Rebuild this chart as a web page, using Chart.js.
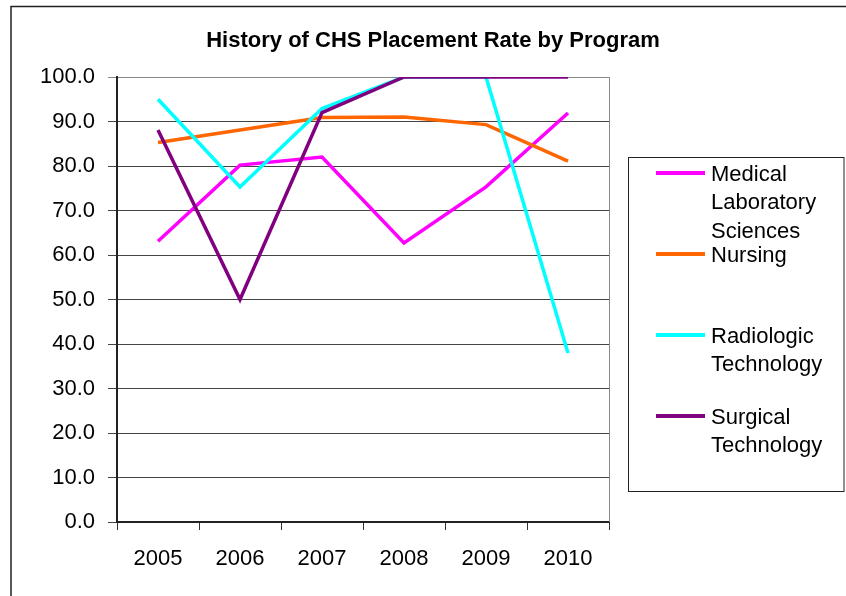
<!DOCTYPE html>
<html>
<head>
<meta charset="utf-8">
<script src="https://cdn.jsdelivr.net/npm/chart.js@4/dist/chart.umd.min.js"></script>
<style>
  html, body { margin: 0; padding: 0; background: #fff; }
  #wrap { position: relative; width: 846px; height: 596px; }
</style>
</head>
<body>
<div id="wrap"><canvas id="c" width="846" height="596"></canvas></div>
<script>
const chartTitle = 'History of CHS Placement Rate by Program';
const years = ['2005', '2006', '2007', '2008', '2009', '2010'];
const seriesNames = ['Medical Laboratory Sciences', 'Nursing', 'Radiologic Technology', 'Surgical Technology'];
const medicalLab = [63.1, 80.2, 82.0, 62.7, 75.3, 91.9];
const nursing = [85.3, 88.1, 90.9, 91.0, 89.3, 81.1];
const radiologic = [95.0, 75.3, 92.9, 100.0, 100.0, 38.0];
const surgical = [88.1, 50.0, 92.0, 100.0, 100.0, 100.0];
const seriesColors = ['#FF00FF', '#FF6600', '#00FFFF', '#800080'];
const yMin = 0, yMax = 100, yStep = 10;

const FONT = '"Liberation Sans", Arial, sans-serif';
const seriesValues = [medicalLab, nursing, radiologic, surgical];

const decorPlugin = {
  id: 'decor',
  beforeDraw(chart) {
    const ctx = chart.ctx;
    ctx.save();
    ctx.fillStyle = '#fff';
    ctx.fillRect(0, 0, chart.width, chart.height);
    // outer chart border
    ctx.strokeStyle = '#222';
    ctx.lineWidth = 1.5;
    ctx.strokeRect(11, 6.5, 1000, 1000);
    ctx.restore();
  },
  afterDraw(chart) {
    const ctx = chart.ctx;
    const a = chart.chartArea;
    ctx.save();
    // right border of plot area
    ctx.strokeStyle = '#888';
    ctx.lineWidth = 1;
    ctx.beginPath();
    ctx.moveTo(Math.round(a.right) + 0.5, a.top);
    ctx.lineTo(Math.round(a.right) + 0.5, a.bottom);
    ctx.stroke();
    // title
    ctx.fillStyle = '#000';
    ctx.font = 'bold 22px ' + FONT;
    ctx.textAlign = 'center';
    ctx.textBaseline = 'alphabetic';
    ctx.fillText(chartTitle, 433, 47);
    // legend box
    ctx.strokeStyle = '#222';
    ctx.lineWidth = 1;
    ctx.strokeRect(628.5, 157.5, 215.5, 334);
    ctx.font = '22px ' + FONT;
    ctx.textAlign = 'left';
    const maxW = 128;
    chart.data.datasets.forEach((ds, i) => {
      const y = 173 + i * 81;
      ctx.strokeStyle = ds.borderColor;
      ctx.lineWidth = 4;
      ctx.beginPath();
      ctx.moveTo(656, y);
      ctx.lineTo(705, y);
      ctx.stroke();
      // wrap
      const words = ds.label.split(' ');
      const lines = [];
      let cur = '';
      words.forEach(w => {
        const t = cur ? cur + ' ' + w : w;
        if (cur && ctx.measureText(t).width > maxW) { lines.push(cur); cur = w; }
        else cur = t;
      });
      if (cur) lines.push(cur);
      ctx.fillStyle = '#000';
      lines.forEach((ln, k) => {
        ctx.fillText(ln, 711, y + 8 + k * 28.3);
      });
    });
    ctx.restore();
  }
};

new Chart(document.getElementById('c'), {
  type: 'line',
  data: {
    labels: years,
    datasets: seriesNames.map((name, i) => ({
      label: name,
      data: seriesValues[i],
      borderColor: seriesColors[i],
      backgroundColor: seriesColors[i],
      borderWidth: 3.5,
      pointRadius: 0,
      pointHoverRadius: 0,
      tension: 0,
      fill: false,
      order: seriesNames.length - 1 - i
    }))
  },
  options: {
    responsive: false,
    animation: false,
    events: [],
    layout: { padding: { left: 0, right: 237, top: 77, bottom: 0 } },
    plugins: {
      legend: { display: false },
      title: { display: false },
      tooltip: { enabled: false }
    },
    scales: {
      x: {
        offset: true,
        grid: {
          offset: true,
          drawOnChartArea: false,
          drawTicks: true,
          tickLength: 8,
          color: '#333',
          lineWidth: 1
        },
        border: { display: true, color: '#222', width: 2 },
        ticks: {
          color: '#000',
          font: { family: FONT, size: 22 },
          padding: 16,
          maxRotation: 0,
          autoSkip: false
        },
        afterFit(scale) { scale.height = 74; }
      },
      y: {
        min: yMin,
        max: yMax,
        grid: {
          color: (c) => (c.tick && c.tick.value === yMax) ? '#888' : '#444',
          lineWidth: 1,
          drawTicks: true,
          tickLength: 9
        },
        border: { display: true, color: '#222', width: 2 },
        ticks: {
          stepSize: yStep,
          color: '#000',
          font: { family: FONT, size: 22 },
          padding: 13,
          callback: (v) => Number(v).toFixed(1)
        },
        afterFit(scale) { scale.width = 117; }
      }
    }
  },
  plugins: [decorPlugin]
});
</script>
</body>
</html>
